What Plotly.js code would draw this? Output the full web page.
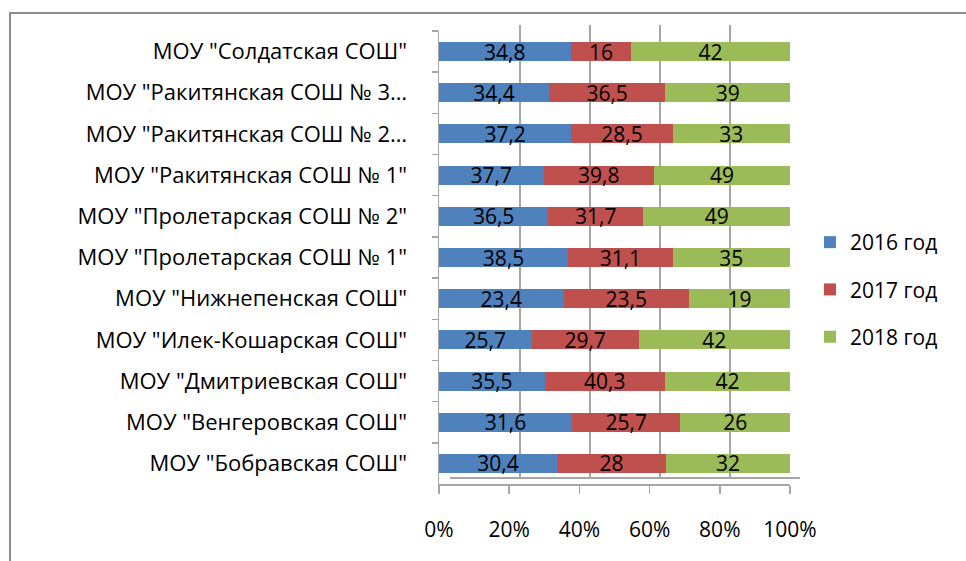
<!DOCTYPE html>
<html>
<head>
<meta charset="utf-8">
<script src="https://cdn.plot.ly/plotly-3.0.1.min.js"></script>
<style>html,body{margin:0;padding:0;background:#fff;}#chart{width:966px;height:561px;}</style>
</head>
<body>
<div id="chart"></div>
<script>
const schools = [
  'МОУ "Бобравская СОШ"',
  'МОУ "Венгеровская СОШ"',
  'МОУ "Дмитриевская СОШ"',
  'МОУ "Илек-Кошарская СОШ"',
  'МОУ "Нижнепенская СОШ"',
  'МОУ "Пролетарская СОШ № 1"',
  'МОУ "Пролетарская СОШ № 2"',
  'МОУ "Ракитянская СОШ № 1"',
  'МОУ "Ракитянская СОШ № 2…',
  'МОУ "Ракитянская СОШ № 3…',
  'МОУ "Солдатская СОШ"'
];
const y2016 = [30.4, 31.6, 35.5, 25.7, 23.4, 38.5, 36.5, 37.7, 37.2, 34.4, 34.8];
const y2017 = [28, 25.7, 40.3, 29.7, 23.5, 31.1, 31.7, 39.8, 28.5, 36.5, 16];
const y2018 = [32, 26, 42, 42, 19, 35, 49, 49, 33, 39, 42];
const seriesNames = ['2016 год', '2017 год', '2018 год'];
const tickVals = [0, 20, 40, 60, 80, 100];
const tickText = ['0%', '20%', '40%', '60%', '80%', '100%'];

const colors = ['#4F81BD', '#C0504D', '#9BBB59'];
const fontFam = 'Open Sans, Noto Sans, sans-serif';
const fmt = v => String(v).replace('.', ',');

const data = [
  // invisible trace holding the back-wall grid subplot
  {type: 'scatter', x: [0], y: [0], xaxis: 'x', yaxis: 'y', mode: 'markers',
   marker: {opacity: 0}, showlegend: false, hoverinfo: 'skip'}
];
[y2016, y2017, y2018].forEach((vals, i) => {
  data.push({
    type: 'bar', orientation: 'h', name: seriesNames[i],
    x: vals, y: schools, xaxis: 'x2', yaxis: 'y2',
    text: vals.map(fmt), textposition: 'inside', insidetextanchor: 'middle',
    textangle: 0, constraintext: 'none',
    textfont: {family: fontFam, size: 21, color: '#000'},
    marker: {color: colors[i], line: {width: 0}},
    width: 0.46, legendgroup: 'g' + i, hoverinfo: 'skip'
  });
});

const W = 966, H = 561;
const px = v => v / W;
const py = v => (H - v) / H;

const layout = {
  width: W, height: H,
  margin: {l: 0, r: 0, t: 0, b: 0},
  paper_bgcolor: '#fff', plot_bgcolor: 'rgba(0,0,0,0)',
  font: {family: fontFam, size: 21, color: '#000'},
  barmode: 'stack', barnorm: 'percent',
  showlegend: true,
  legend: {
    x: px(810), y: py(222), xanchor: 'left', yanchor: 'top',
    traceorder: 'grouped', tracegroupgap: 17,
    font: {family: fontFam, size: 21, color: '#000'},
    bgcolor: 'rgba(0,0,0,0)'
  },
  xaxis: {
    domain: [px(450), px(800)], range: [0, 100], anchor: 'y',
    showgrid: true, gridcolor: '#a6a6a6', gridwidth: 1.5,
    tickvals: tickVals, showticklabels: false, ticks: '',
    zeroline: false, showline: true, linecolor: '#a6a6a6', linewidth: 1.5
  },
  yaxis: {
    domain: [py(477), py(25)], range: [0, 1], anchor: 'x',
    showgrid: false, showticklabels: false, ticks: '', zeroline: false,
    showline: false
  },
  xaxis2: {
    domain: [px(439), px(790)], range: [0, 100], anchor: 'y2',
    tickvals: tickVals, ticktext: tickText,
    showgrid: false, zeroline: false,
    showline: true, linecolor: '#a6a6a6', linewidth: 1.5,
    ticks: 'outside', ticklen: 8, tickcolor: '#a6a6a6', tickwidth: 1.5,
    ticklabelstandoff: 18,
    tickfont: {family: fontFam, size: 21, color: '#000'}
  },
  yaxis2: {
    domain: [py(484), py(31)], anchor: 'x2', type: 'category',
    categoryorder: 'array', categoryarray: schools,
    showgrid: false, zeroline: false,
    showline: true, linecolor: '#a6a6a6', linewidth: 1.5,
    ticks: 'outside', ticklen: 6, tickcolor: '#a6a6a6', tickwidth: 1.5,
    tickson: 'boundaries', ticklabelstandoff: 26,
    tickfont: {family: fontFam, size: 22, color: '#000'}
  },
  shapes: [
    {type: 'rect', xref: 'paper', yref: 'paper',
     x0: px(10), x1: 1.05, y0: -0.05, y1: py(13),
     line: {color: '#8c8c8c', width: 2}, fillcolor: 'rgba(0,0,0,0)', layer: 'below'}
  ]
};

Plotly.newPlot('chart', data, layout, {displayModeBar: false, staticPlot: true});
</script>
</body>
</html>
